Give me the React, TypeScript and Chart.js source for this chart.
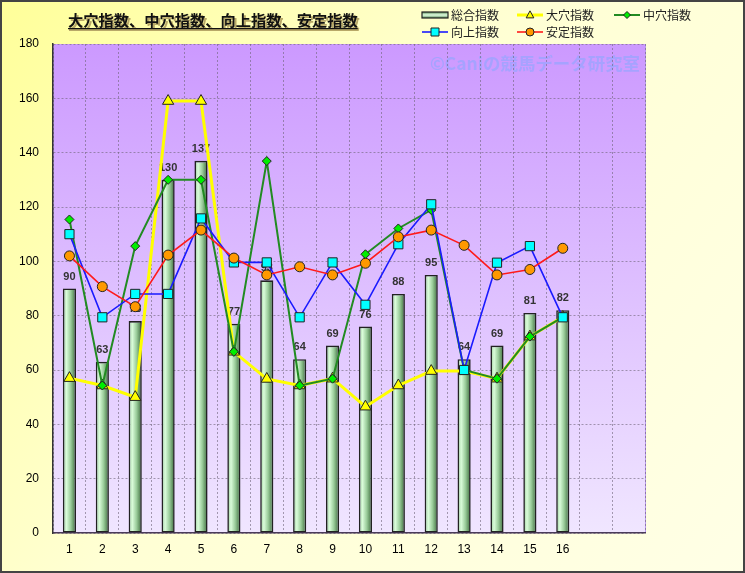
import React, { useEffect, useRef } from 'react';
import { Chart, registerables } from 'chart.js';

Chart.register(...registerables);

const W = 745;
const H = 573;

const categories = ['1', '2', '3', '4', '5', '6', '7', '8', '9', '10', '11', '12', '13', '14', '15', '16', '', ''];
const sogoValues = [90, 63, 78, 130, 137, 77, 93, 64, 69, 76, 88, 95, 64, 69, 81, 82];
const oanaValues = [57, 54.3, 50, 159, 159, 66.7, 56.7, 54.3, 56.8, 46.5, 54.3, 59.6, 59.6, 56.8, 72.3, 79.5];
const chuanaValues = [115.4, 54.3, 105.6, 130, 130, 66.7, 136.9, 54.3, 56.8, 102.6, 112.1, 118.9, 60, 56.8, 72.3, 79.5];
const kojoValues = [110, 79.4, 88, 88, 115.8, 99.6, 99.6, 79.4, 99.6, 84, 106.3, 121, 60, 99.5, 105.6, 79.4];
const anteiValues = [102, 90.7, 83.3, 102.3, 111.5, 101.2, 95, 98, 95, 99.3, 109, 111.5, 105.9, 95, 97, 104.8];
const barLabels = ['90', '63', '78', '130', '137', '77', '93', '64', '69', '76', '88', '95', '64', '69', '81', '82'];

const seriesNames = ['総合指数', '大穴指数', '中穴指数', '向上指数', '安定指数'];
const titleText = '大穴指数、中穴指数、向上指数、安定指数';
const watermarkText = '©Caniの競馬データ研究室';
const yMin = 0;
const yMax = 180;
const yStep = 20;

const JP = '"Noto Sans CJK JP", "Noto Sans", sans-serif';
const LAT = '"Liberation Sans", Arial, sans-serif';

const lineStyles = [
  null,
  { line: '#ffff00', lw: 3, fill: '#ffff00', style: 'triangle', r: 6.5 },
  { line: '#228b22', lw: 2, fill: '#00ee00', style: 'rectRot', r: 4.5 },
  { line: '#1a1aff', lw: 1.6, fill: '#00ffff', style: 'rect', r: 6.5 },
  { line: '#ff1a1a', lw: 1.6, fill: '#ff9900', style: 'circle', r: 5 },
];

function barGrad(ctx: CanvasRenderingContext2D, x0: number, x1: number) {
  const g = ctx.createLinearGradient(x0, 0, x1, 0);
  g.addColorStop(0, '#94c894');
  g.addColorStop(0.28, '#dafcda');
  g.addColorStop(0.6, '#9acc9a');
  g.addColorStop(1, '#3a683a');
  return g;
}

function drawMarker(ctx: CanvasRenderingContext2D, style: string, x: number, y: number, r: number, fill: string) {
  ctx.save();
  ctx.fillStyle = fill;
  ctx.strokeStyle = '#222';
  ctx.lineWidth = 1;
  ctx.beginPath();
  if (style === 'triangle') {
    const s = r * 1.6;
    ctx.moveTo(x, y - s * 0.65);
    ctx.lineTo(x + s * 0.6, y + s * 0.45);
    ctx.lineTo(x - s * 0.6, y + s * 0.45);
    ctx.closePath();
  } else if (style === 'rectRot') {
    ctx.moveTo(x, y - r);
    ctx.lineTo(x + r, y);
    ctx.lineTo(x, y + r);
    ctx.lineTo(x - r, y);
    ctx.closePath();
  } else if (style === 'rect') {
    ctx.rect(x - r, y - r, 2 * r, 2 * r);
  } else {
    ctx.arc(x, y, r, 0, Math.PI * 2);
  }
  ctx.fill();
  ctx.stroke();
  ctx.restore();
}

const decorPlugin = {
  id: 'decor',
  beforeDraw(chart: any) {
    const { ctx, chartArea: a } = chart;
    ctx.save();
    const bg = ctx.createLinearGradient(0, 0, W, H);
    bg.addColorStop(0, '#ffff99');
    bg.addColorStop(0.45, '#ffffd4');
    bg.addColorStop(1, '#ffffe6');
    ctx.fillStyle = bg;
    ctx.fillRect(0, 0, W, H);

    const pg = ctx.createLinearGradient(0, a.top, 0, a.bottom);
    pg.addColorStop(0, '#cc99ff');
    pg.addColorStop(1, '#f0e6ff');
    ctx.fillStyle = pg;
    ctx.fillRect(a.left, a.top, a.right - a.left, a.bottom - a.top);

    ctx.strokeStyle = '#b898ee';
    ctx.lineWidth = 1;
    ctx.beginPath();
    ctx.moveTo(a.right + 0.5, a.top);
    ctx.lineTo(a.right + 0.5, a.bottom);
    ctx.stroke();

    // watermark
    ctx.font = `bold 18px ${JP}`;
    const ww = ctx.measureText(watermarkText).width;
    const sz = 18 * 210 / ww;
    ctx.font = `bold ${sz}px ${JP}`;
    ctx.fillStyle = 'rgba(150,165,255,0.7)';
    ctx.textAlign = 'right';
    ctx.textBaseline = 'middle';
    ctx.fillText(watermarkText, 640, 63);
    ctx.restore();
  },
  afterDatasetDraw(chart: any, args: any) {
    if (args.index !== 0) return;
    const { ctx } = chart;
    const meta = chart.getDatasetMeta(0);
    ctx.save();
    ctx.font = `bold 11px ${LAT}`;
    ctx.fillStyle = '#333';
    ctx.textAlign = 'center';
    ctx.textBaseline = 'middle';
    meta.data.forEach((el: any, i: number) => {
      if (barLabels[i]) ctx.fillText(barLabels[i], el.x, el.y - 12);
    });
    ctx.restore();
  },
  afterDraw(chart: any) {
    const { ctx } = chart;
    ctx.save();
    // title
    ctx.font = `bold 16px ${JP}`;
    const tw0 = ctx.measureText(titleText).width;
    const tsz = 16 * 290 / tw0;
    ctx.font = `bold ${tsz}px ${JP}`;
    const tw = ctx.measureText(titleText).width;
    ctx.textAlign = 'left';
    ctx.textBaseline = 'middle';
    const tx = 68;
    const ty = 20;
    ctx.fillStyle = '#b8a868';
    ctx.fillText(titleText, tx + 2, ty + 2);
    ctx.fillRect(tx + 1, ty + 9, tw, 2);
    ctx.fillStyle = '#111';
    ctx.fillText(titleText, tx, ty);
    ctx.fillRect(tx, ty + 8, tw, 1.2);

    // legend
    const pos = [
      [422, 15], [517, 15], [614, 15], [422, 32], [517, 32],
    ];
    ctx.font = `12px ${JP}`;
    ctx.textBaseline = 'middle';
    seriesNames.forEach((name, i) => {
      const [x, y] = pos[i];
      if (i === 0) {
        const g = ctx.createLinearGradient(0, y - 3, 0, y + 3);
        g.addColorStop(0, '#5a8a5a');
        g.addColorStop(0.5, '#e2ffe2');
        g.addColorStop(1, '#5a8a5a');
        ctx.fillStyle = g;
        ctx.fillRect(x, y - 3, 26, 6);
        ctx.strokeStyle = '#222';
        ctx.lineWidth = 1.2;
        ctx.strokeRect(x, y - 3, 26, 6);
      } else {
        const st = lineStyles[i]!;
        ctx.strokeStyle = st.line;
        ctx.lineWidth = st.lw;
        ctx.beginPath();
        ctx.moveTo(x, y);
        ctx.lineTo(x + 26, y);
        ctx.stroke();
        drawMarker(ctx, st.style, x + 13, y, st.style === 'triangle' ? 4 : st.style === 'rectRot' ? 3.5 : 4, st.fill);
      }
      ctx.fillStyle = '#222';
      ctx.fillText(name, x + 29, y);
    });

    // outer border
    ctx.strokeStyle = '#444';
    ctx.lineWidth = 2;
    ctx.strokeRect(1, 1, W - 2, H - 2);
    ctx.restore();
  },
};

export default function App() {
  const ref = useRef<HTMLCanvasElement | null>(null);

  useEffect(() => {
    document.body.style.margin = '0';
    const canvas = ref.current;
    if (!canvas) return;

    const lineDs = (idx: number, data: number[], order: number) => {
      const st = lineStyles[idx]!;
      return {
        type: 'line' as const,
        label: seriesNames[idx],
        data,
        order,
        borderColor: st.line,
        borderWidth: st.lw,
        backgroundColor: st.fill,
        fill: false,
        tension: 0,
        pointStyle: st.style,
        pointRadius: st.r,
        pointHoverRadius: st.r,
        pointBackgroundColor: st.fill,
        pointBorderColor: '#222',
        pointBorderWidth: 1,
      };
    };

    const chart = new Chart(canvas, {
      type: 'bar',
      data: {
        labels: categories,
        datasets: [
          {
            type: 'bar',
            label: seriesNames[0],
            data: sogoValues,
            order: 5,
            backgroundColor: (c: any) => {
              const ch = c.chart;
              if (!ch.chartArea || !ch.scales || !ch.scales.x) return '#b8e0b8';
              const x = ch.scales.x.getPixelForValue(c.dataIndex);
              return barGrad(ch.ctx, x - 6.6, x + 6.6);
            },
            borderColor: '#222',
            borderWidth: 1.6,
            borderSkipped: false,
            categoryPercentage: 1,
            barPercentage: 0.4,
          } as any,
          lineDs(1, oanaValues, 4),
          lineDs(2, chuanaValues, 3),
          lineDs(3, kojoValues, 2),
          lineDs(4, anteiValues, 1),
        ],
      },
      options: {
        responsive: false,
        animation: false,
        devicePixelRatio: 1,
        layout: { padding: { top: 44, right: 100, left: 0, bottom: 0 } },
        plugins: {
          legend: { display: false },
          title: { display: false },
          tooltip: { enabled: false },
        },
        scales: {
          x: {
            type: 'category',
            offset: true,
            grid: {
              display: true,
              offset: true,
              drawTicks: false,
              color: 'rgba(110,100,120,0.6)',
              lineWidth: 1,
            },
            border: { display: true, color: '#4a3a5a', width: 1.5, dash: [2, 2] },
            ticks: {
              padding: 9,
              color: '#000',
              font: { family: LAT, size: 12 },
              maxRotation: 0,
              autoSkip: false,
            },
            afterFit: (s: any) => {
              s.height = 40;
            },
          },
          y: {
            min: yMin,
            max: yMax,
            grid: {
              display: true,
              drawTicks: false,
              color: 'rgba(110,100,120,0.6)',
              lineWidth: 1,
            },
            border: { display: true, color: '#333', width: 1.5, dash: [2, 2] },
            ticks: {
              stepSize: yStep,
              padding: 14,
              color: '#000',
              font: { family: LAT, size: 12 },
            },
            afterFit: (s: any) => {
              s.width = 53;
            },
          },
        },
      },
      plugins: [decorPlugin],
    } as any);

    return () => chart.destroy();
  }, []);

  return <canvas ref={ref} width={W} height={H} style={{ display: 'block', width: W, height: H }} />;
}
